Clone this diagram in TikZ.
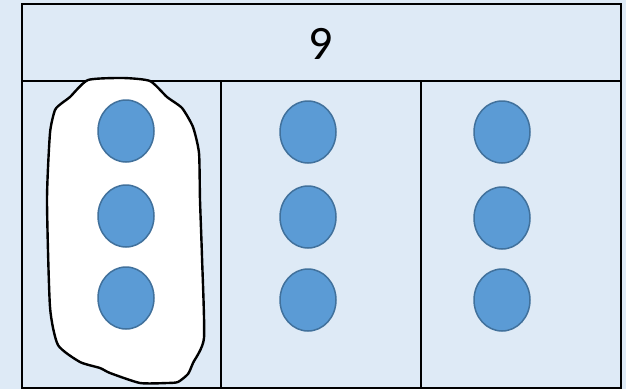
\documentclass[tikz,border=0pt]{standalone}
\usepackage{fontspec}
\setmainfont{Carlito}
\definecolor{bgblue}{HTML}{DEEAF6}
\definecolor{dotfill}{HTML}{5B9BD5}
\definecolor{dotline}{HTML}{41719C}
\tikzset{
  dot/.style={ellipse, draw=dotline, fill=dotfill, line width=1.5pt, minimum width=56pt, minimum height=62pt, inner sep=0pt},
  gridline/.style={line width=2.2pt, black},
  blob/.style={fill=white, draw=black, line width=2.4pt, line join=round}
}
\usetikzlibrary{shapes.geometric}
\begin{document}
\begin{tikzpicture}[x=1pt, y=-1pt]
\useasboundingbox (0,0) rectangle (626,389);
\fill[bgblue] (0,0) rectangle (626,389);
% grid
\draw[gridline] (22,4) rectangle (621,388);
\draw[gridline] (22,81) -- (621,81);
\draw[gridline] (221,81) -- (221,388);
\draw[gridline] (421,81) -- (421,388);
\node (nine) at (321,44) {\fontsize{48}{54}\selectfont 9};
% hand-drawn loop
\draw[blob] plot[smooth cycle, tension=0.35] coordinates {
  (88,80) (123,78) (150,81) (167,97) (182,108) (193,127) (199,153)
  (200,200) (202,257) (204,338) (193,363) (188,374) (178,382) (167,383)
  (140,383) (110,373) (100,368) (80,362) (58,345) (50,307) (47,200)
  (50,133) (55,110) (62,103) (70,97)};
% dots
\foreach \c/\x/\ya/\yb/\yc in {1/126/131/216/298, 2/308/132/217/300, 3/502/132/218/300}{
  \node[dot] (d\c a) at (\x,\ya) {};
  \node[dot] (d\c b) at (\x,\yb) {};
  \node[dot] (d\c c) at (\x,\yc) {};
}
\end{tikzpicture}
\end{document}
